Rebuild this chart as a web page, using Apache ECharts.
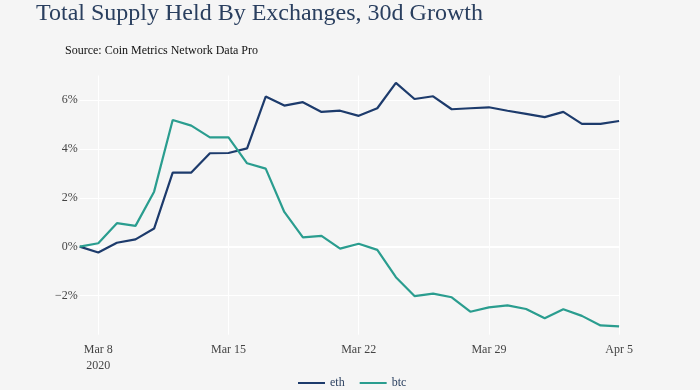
<!DOCTYPE html>
<html>
<head>
<meta charset="utf-8">
<script src="https://cdn.jsdelivr.net/npm/echarts@6/dist/echarts.min.js"></script>
<style>
html,body{margin:0;padding:0;background:#f5f5f5;}
#chart{width:700px;height:390px;}
</style>
</head>
<body>
<div id="chart"></div>
<script>
var categories = ['Mar 7','Mar 8','Mar 9','Mar 10','Mar 11','Mar 12','Mar 13','Mar 14','Mar 15','Mar 16',
  'Mar 17','Mar 18','Mar 19','Mar 20','Mar 21','Mar 22','Mar 23','Mar 24','Mar 25','Mar 26',
  'Mar 27','Mar 28','Mar 29','Mar 30','Mar 31','Apr 1','Apr 2','Apr 3','Apr 4','Apr 5'];
var eth = [0, -0.24, 0.16, 0.30, 0.74, 3.03, 3.03, 3.82, 3.83, 4.02,
  6.14, 5.77, 5.91, 5.51, 5.56, 5.35, 5.66, 6.70, 6.04, 6.15,
  5.62, 5.66, 5.70, 5.56, 5.43, 5.30, 5.51, 5.02, 5.02, 5.14];
var btc = [0, 0.14, 0.96, 0.85, 2.25, 5.18, 4.95, 4.47, 4.47, 3.41,
  3.19, 1.42, 0.38, 0.44, -0.08, 0.12, -0.13, -1.25, -2.02, -1.92,
  -2.07, -2.66, -2.48, -2.40, -2.55, -2.93, -2.56, -2.83, -3.22, -3.26];
var xTickIndex = [1, 8, 15, 22, 29];
var xTickLabels = ['Mar 8\n2020', 'Mar 15', 'Mar 22', 'Mar 29', 'Apr 5'];
var yTicks = [-2, 0, 2, 4, 6];

var serif = '"Liberation Serif", "DejaVu Serif", serif';
var chart = echarts.init(document.getElementById('chart'), null, {renderer: 'canvas'});
function isTick(i) { return xTickIndex.indexOf(i) >= 0; }
chart.setOption({
  animation: false,
  backgroundColor: '#f5f5f5',
  title: [
    {text: 'Total Supply Held By Exchanges, 30d Growth', left: 31, top: -3,
     textStyle: {fontFamily: serif, fontSize: 24, fontWeight: 'normal', color: '#2a3f5f'}},
    {text: 'Source: Coin Metrics Network Data Pro', left: 60, top: 40,
     textStyle: {fontFamily: serif, fontSize: 12, fontWeight: 'normal', color: '#111'}}
  ],
  legend: {
    left: 293, top: 372, itemWidth: 27, itemHeight: 2, itemGap: 15, icon: 'rect',
    textStyle: {fontFamily: serif, fontSize: 12, color: '#2a3f5f'},
    data: ['eth', 'btc']
  },
  grid: {left: 79.7, right: 80.9, top: 75.5, bottom: 55.3, containLabel: false},
  xAxis: {
    type: 'category', data: categories, boundaryGap: false,
    axisLine: {show: false}, axisTick: {show: false},
    splitLine: {show: true, interval: function (i) { return isTick(i); }, lineStyle: {color: '#ffffff', width: 1}},
    axisLabel: {
      interval: function (i) { return isTick(i); },
      formatter: function (v, i) { var k = xTickIndex.indexOf(i); return k >= 0 ? xTickLabels[k] : ''; },
      fontFamily: serif, fontSize: 12, color: '#444', margin: 7, lineHeight: 16
    }
  },
  yAxis: {
    type: 'value', min: -3.6, max: 7,
    axisLine: {show: false}, axisTick: {show: false},
    splitLine: {show: true, showMinLine: false, showMaxLine: false, lineStyle: {color: '#ffffff', width: 1}},
    axisLabel: {
      showMinLabel: false, showMaxLabel: false, margin: 2,
      fontFamily: serif, fontSize: 12, color: '#444',
      formatter: function (v) {
        if (yTicks.indexOf(v) < 0) return '';
        return v < 0 ? '\u2212' + Math.abs(v) + '%' : v + '%';
      }
    }
  },
  series: [
    {name: 'eth', type: 'line', data: eth, showSymbol: false, symbol: 'none',
     lineStyle: {color: '#1d3b6c', width: 2.2}, itemStyle: {color: '#1d3b6c'},
     markLine: {silent: true, symbol: 'none', label: {show: false}, z: 1,
       lineStyle: {color: '#ffffff', width: 2, type: 'solid'}, data: [{yAxis: 0}]}},
    {name: 'btc', type: 'line', data: btc, showSymbol: false, symbol: 'none',
     lineStyle: {color: '#2a9d8f', width: 2.2}, itemStyle: {color: '#2a9d8f'}}
  ]
});
</script>
</body>
</html>
